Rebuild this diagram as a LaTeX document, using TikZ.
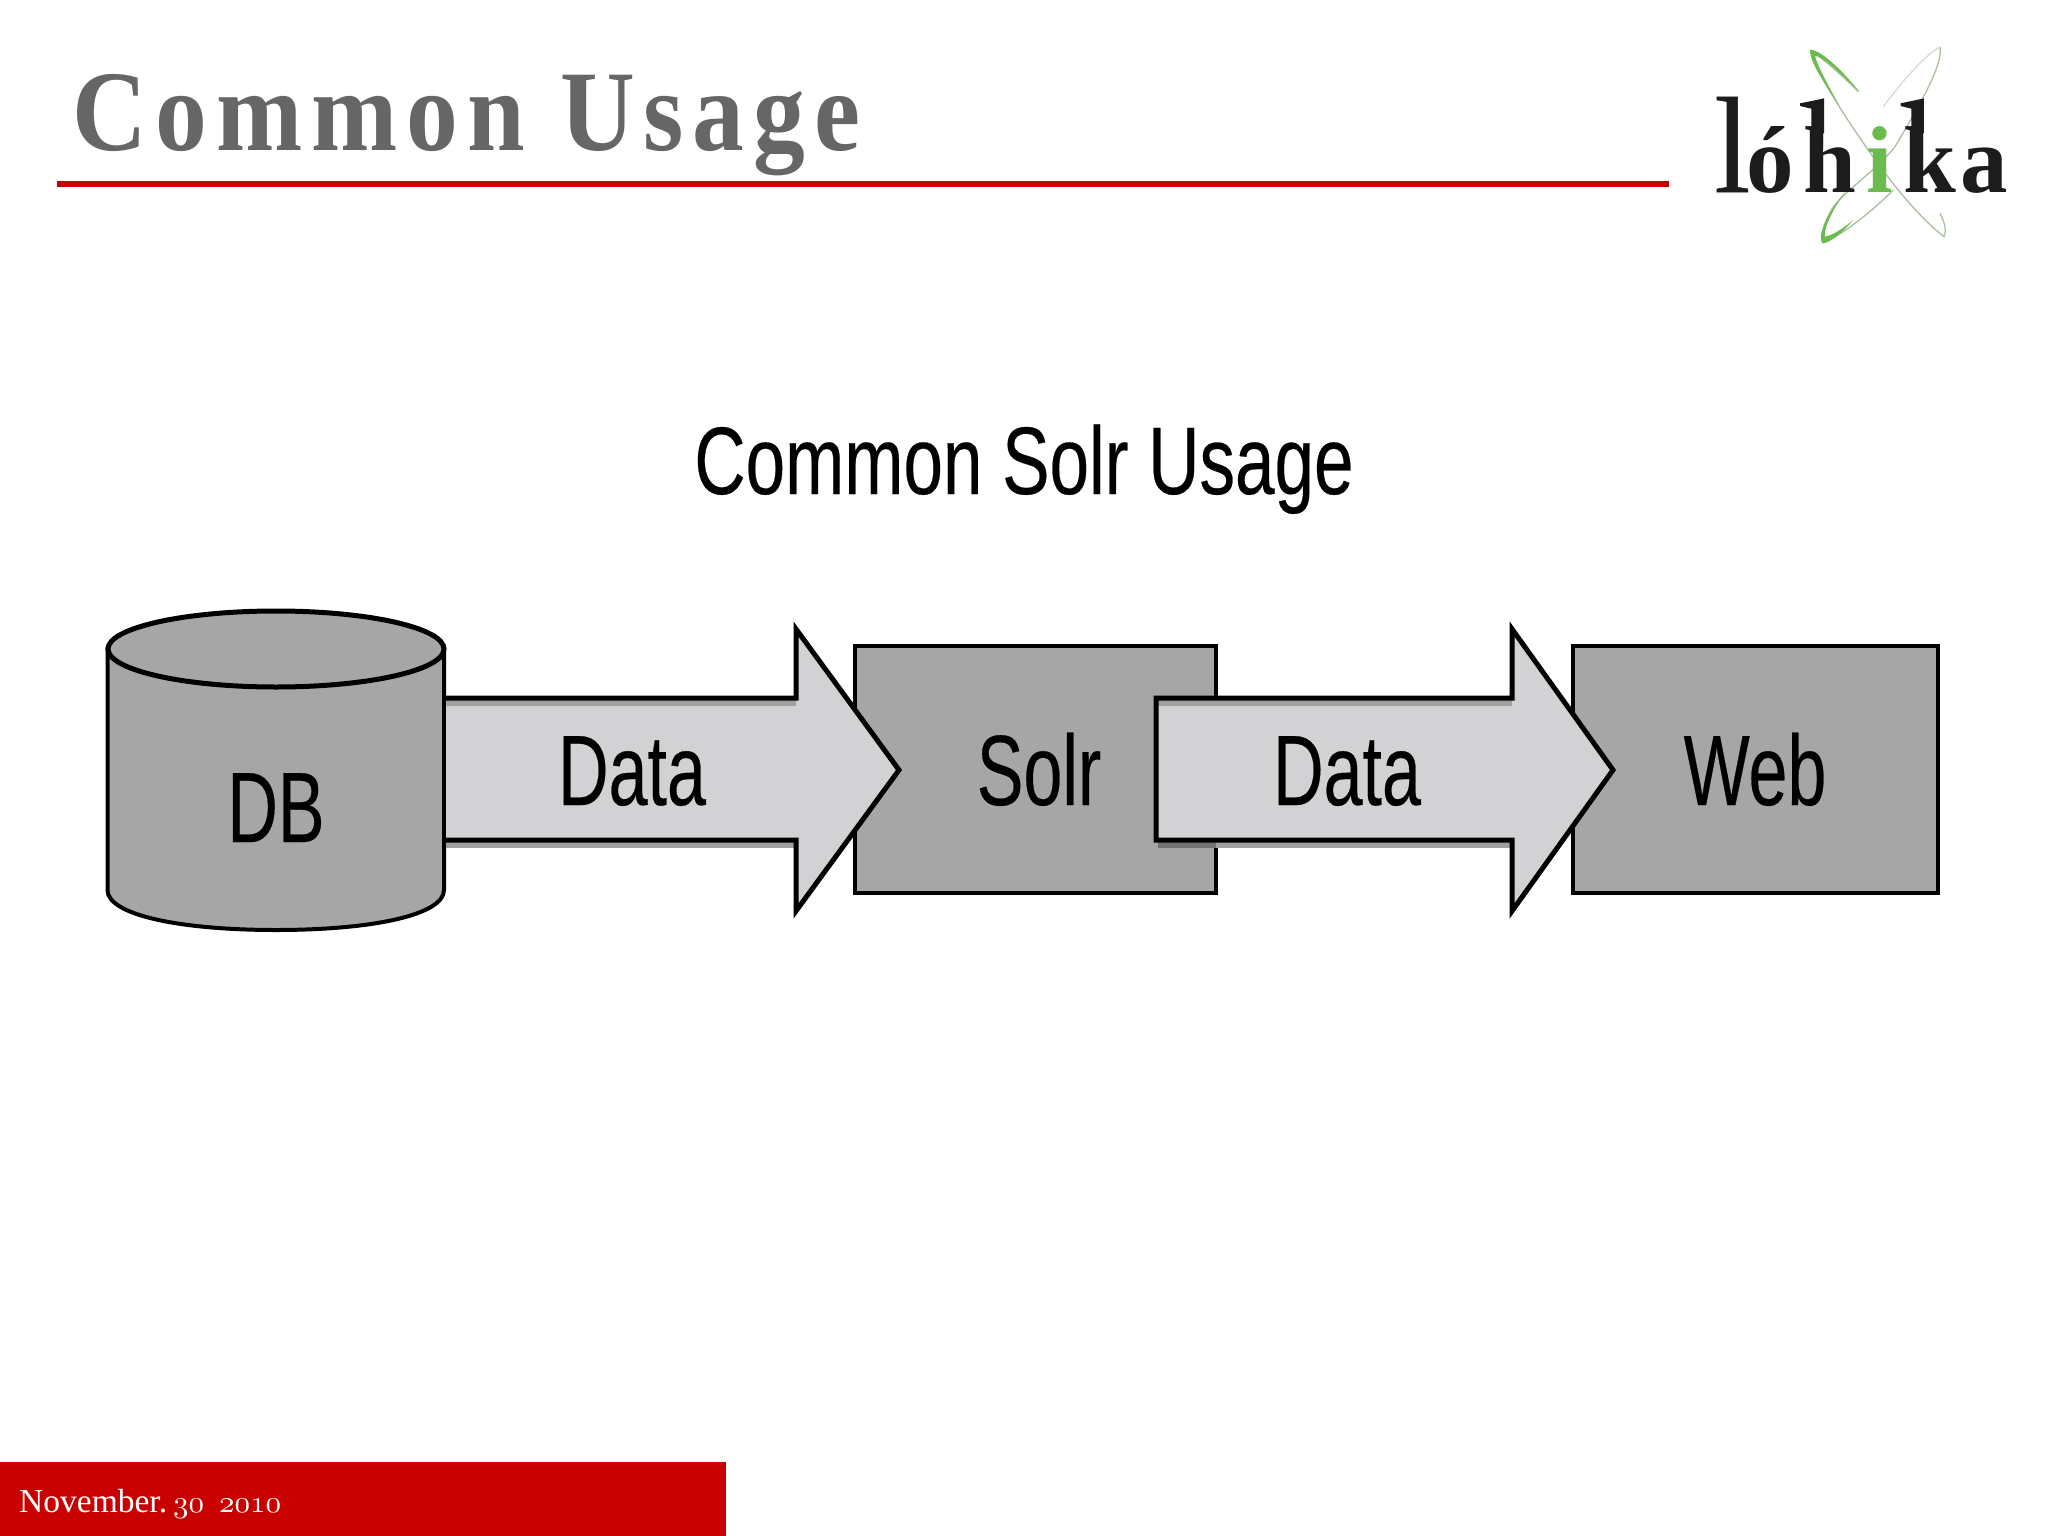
\documentclass[tikz,border=0pt]{standalone}
\usepackage{fontspec}
\newfontfamily\titlefont[FakeStretch=0.9,LetterSpace=7.8,Ligatures=NoCommon]{Liberation Serif Bold}
\newfontfamily\logotall[FakeBold=0.4,FakeStretch=0.95]{Liberation Serif}
\newfontfamily\logolow{Liberation Serif Bold}
\newfontfamily\narrowfont[FakeStretch=0.7,FakeBold=0.25]{Liberation Sans}
\newfontfamily\headfont[FakeStretch=0.74,FakeBold=0.25]{Liberation Sans}
\newfontfamily\datefont{Liberation Serif}
\font\oldfigfont=cmmi10 at 31pt
\newcommand{\oldfigs}[1]{{\oldfigfont #1}}
\definecolor{slidered}{HTML}{C90000}
\definecolor{titlegrey}{HTML}{666666}
\definecolor{boxgrey}{HTML}{A6A6A6}
\definecolor{arrowgrey}{HTML}{D2D2D4}
\definecolor{shadowgrey}{HTML}{A0A0A0}
\definecolor{logogreen}{HTML}{6CBB4E}
\definecolor{logoline}{HTML}{A9BFA0}
\definecolor{logoblack}{HTML}{1C1C1C}
\tikzset{
  plainbox/.style={draw=black,line width=4pt,fill=boxgrey},
  arrowfill/.style={fill=arrowgrey},
  arrowline/.style={draw=black,line width=5pt,line join=miter,miter limit=10},
  bigtext/.style={anchor=base,inner sep=0pt,font=\narrowfont\fontsize{100}{100}\selectfont,text=black},
  crescent/.style={fill=logogreen,draw=none},
  orbit/.style={draw=logoline,line width=1.3pt}
}
\begin{document}
\begin{tikzpicture}[x=1pt,y=-1pt]
\useasboundingbox (0,0) rectangle (2048,1536);
\fill[white] (0,0) rectangle (2048,1536);
% header
\node[anchor=base west,inner sep=0pt,text=titlegrey,font=\titlefont\fontsize{115}{115}\selectfont] (title) at (72,150) {Common Usage};
\fill[slidered] (57,181) rectangle (1669,187);
% logo
\begin{scope}[shift={(1650,20)},x=0.3333pt,y=-0.3333pt]
  \draw[orbit] (625,215) .. controls (560,150) and (510,110) .. (483,92) .. controls (490,130) and (540,220) .. (600,310) .. controls (680,430) and (780,570) .. (882,650) .. controls (890,630) and (885,610) .. (870,580);
  \draw[orbit] (870,80) .. controls (878,130) and (830,220) .. (735,380) .. controls (680,450) and (600,500) .. (550,560) .. controls (520,610) and (510,650) .. (518,668) .. controls (570,650) and (660,580) .. (730,510);
  \draw[orbit,draw=logoline!50] (868,82) .. controls (820,110) and (760,180) .. (700,260);
  \fill[crescent] (480,90) .. controls (500,85) and (560,130) .. (628,215) .. controls (560,150) and (520,110) .. (495,108) .. controls (500,130) and (530,190) .. (570,260) .. controls (530,200) and (480,130) .. (480,90) -- cycle;
  \fill[crescent] (518,670) .. controls (500,650) and (530,580) .. (590,510) .. controls (545,570) and (520,630) .. (525,650) .. controls (550,645) and (580,625) .. (610,600) .. controls (580,635) and (540,670) .. (518,670) -- cycle;
\end{scope}
\node[anchor=base west,inner sep=0pt,text=logoblack] (logo) at (1714,192) {{\logotall\fontsize{137}{137}\selectfont l}\kern-4pt{\logolow\fontsize{95}{95}\selectfont ó\kern9.5pt h\kern10pt\textcolor{logogreen}{i}\kern11pt k\kern4pt a}};
\begin{scope}[shift={(1650,20)},x=0.3333pt,y=-0.3333pt]
  \fill[logoblack] (450,250) -- (490,242) -- (522,235) -- (522,340) -- (484,340) -- (484,266) -- (450,258) -- cycle;
  \fill[logoblack] (752,250) -- (790,242) -- (822,235) -- (822,340) -- (784,340) -- (784,266) -- (752,258) -- cycle;
\end{scope}
% caption
\node[anchor=base,inner sep=0pt,text=black,font=\headfont\fontsize{96}{96}\selectfont] (heading) at (1024,494) {Common Solr Usage};
% boxes
\node[plainbox,minimum width=361pt,minimum height=247pt,inner sep=0pt,anchor=north west] (solrbox) at (852.5,643.5) {};
\node[plainbox,minimum width=365pt,minimum height=247pt,inner sep=0pt,anchor=north west] (webbox) at (1571,643.5) {};
% cylinder
\filldraw[fill=boxgrey,draw=black,line width=4pt] (107.5,649) -- (107.5,890) .. controls (107.5,915) and (180,930) .. (276,930) .. controls (372,930) and (444,915) .. (444,890) -- (444,649) -- cycle;
\filldraw[fill=boxgrey,draw=black,line width=5pt] (276,649) ellipse [x radius=168,y radius=38];
% first arrow
\fill[arrowfill] (446,698) -- (796,698) -- (796,629) -- (899,770) -- (796,911) -- (796,840) -- (446,840) -- cycle;
\fill[shadowgrey] (446,700) rectangle (796,706);
\fill[shadowgrey] (446,842) rectangle (796,848);
\draw[arrowline] (446,698) -- (796,698) -- (796,629) -- (899,770) -- (796,911) -- (796,840) -- (446,840);
% second arrow
\fill[arrowfill] (1156,698) -- (1512,698) -- (1512,629) -- (1613,770) -- (1512,911) -- (1512,840) -- (1156,840) -- cycle;
\fill[shadowgrey] (1156,700) rectangle (1512,706);
\fill[black!55] (1158,842) rectangle (1216,848);
\fill[shadowgrey] (1216,842) rectangle (1512,848);
\draw[arrowline] (1156,698) -- (1512,698) -- (1512,629) -- (1613,770) -- (1512,911) -- (1512,840) -- (1156,840) -- cycle;
% labels
\node[bigtext] (db) at (276,842) {DB};
\node[bigtext] (dataone) at (632,805) {Data};
\node[bigtext] (solr) at (1039,805) {Solr};
\node[bigtext] (datatwo) at (1347,805) {Data};
\node[bigtext] (web) at (1755,805) {Web};
% footer
\fill[slidered] (0,1462) rectangle (726,1536);
\node[anchor=base west,inner sep=0pt,text=white,font=\datefont\fontsize{33.5}{33.5}\selectfont] (date) at (19,1512) {November.\kern6pt\oldfigs{30}\kern15pt\oldfigs{2010}};
\end{tikzpicture}
\end{document}
